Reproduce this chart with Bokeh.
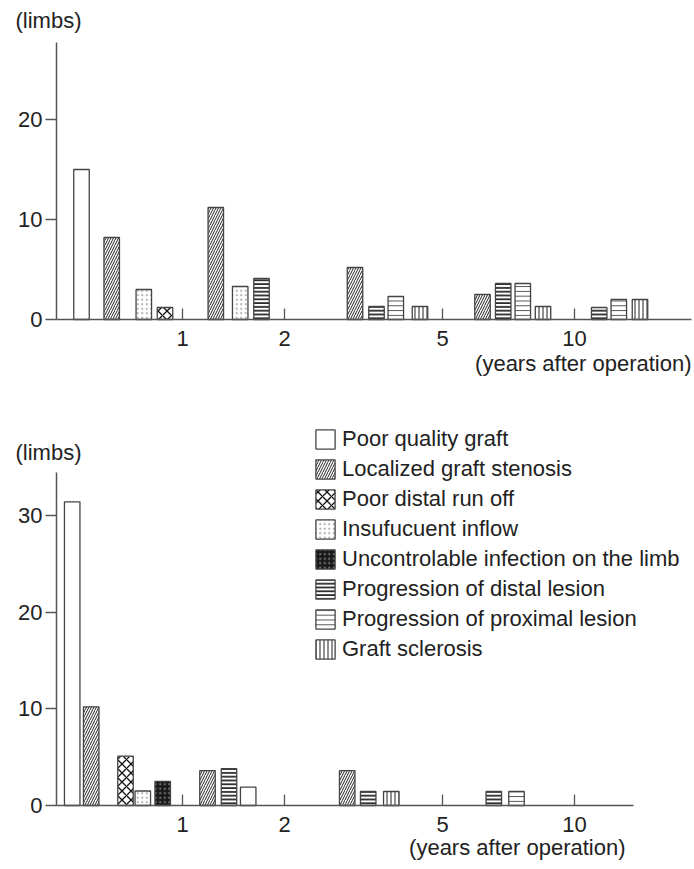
from bokeh.plotting import figure
from bokeh.models import ColumnDataSource, Legend, LegendItem, Label, FixedTicker, Range1d
from bokeh.layouts import column
from bokeh.embed import file_html
from bokeh.resources import INLINE

# ---------------- data ----------------
categories = [
    "Poor quality graft",
    "Localized graft stenosis",
    "Poor distal run off",
    "Insufucuent inflow",
    "Uncontrolable infection on the limb",
    "Progression of distal lesion",
    "Progression of proximal lesion",
    "Graft sclerosis",
]

tick_positions = [12.6, 22.8, 38.6, 51.8]
tick_labels = ["1", "2", "5", "10"]

# top panel (x positions on the years axis, cause index, limbs)
top_x = [2.50, 5.52, 8.73, 10.85, 15.93, 18.37, 20.50, 29.85, 32.00, 33.93,
         36.35, 42.60, 44.67, 46.63, 48.65, 54.27, 56.23, 58.35]
top_cat = [0, 1, 3, 2, 1, 3, 5, 1, 5, 6, 7, 1, 5, 6, 7, 5, 6, 7]
top_val = [15.0, 8.2, 3.0, 1.2, 11.2, 3.3, 4.1, 5.2, 1.3, 2.3, 1.3,
           2.5, 3.6, 3.6, 1.3, 1.2, 2.0, 2.0]

# bottom panel
bot_x = [1.57, 3.47, 6.90, 8.63, 10.62, 15.10, 17.25, 19.17, 29.07, 31.17,
         33.48, 43.73, 46.00]
bot_cat = [0, 1, 2, 3, 4, 1, 5, 0, 1, 5, 7, 5, 6]
bot_val = [31.4, 10.2, 5.1, 1.5, 2.5, 3.6, 3.8, 1.9, 3.6, 1.45, 1.45, 1.45, 1.45]

top_yticks = [0, 10, 20]
bot_yticks = [0, 10, 20, 30]

# ---------------- styles ----------------
FONT = "Liberation Sans"
TXT = "#222222"
AX = "#555555"
BAR_W = 1.55
W = 694

styles = [
    dict(fill_color="white", hatch_pattern=" "),
    dict(fill_color="white", hatch_pattern="/", hatch_color="#222222", hatch_scale=5, hatch_weight=1.0),
    dict(fill_color="white", hatch_pattern="x", hatch_color="#111111", hatch_scale=9, hatch_weight=1.3),
    dict(fill_color="white", hatch_pattern=".", hatch_color="#b0b0b0", hatch_scale=4.5, hatch_weight=0.7),
    dict(fill_color="#1a1a1a", hatch_pattern=".", hatch_color="#707070", hatch_scale=4.5, hatch_weight=0.8),
    dict(fill_color="white", hatch_pattern="-", hatch_color="#111111", hatch_scale=3.8, hatch_weight=1.6),
    dict(fill_color="white", hatch_pattern="-", hatch_color="#444444", hatch_scale=4.8, hatch_weight=0.9),
    dict(fill_color="white", hatch_pattern="|", hatch_color="#333333", hatch_scale=4, hatch_weight=1.1),
]

# layout in pixels: y axis at x=56, 10 px per x unit
X0_PX = 56
PX_PER_X = 10.0


def make_fig(height, zero_px, px_per_y, x_end, y_end, yticks):
    xr = Range1d(-X0_PX / PX_PER_X, (W - X0_PX) / PX_PER_X)
    yr = Range1d(-(height - zero_px) / px_per_y, zero_px / px_per_y)
    p = figure(width=W, height=height, x_range=xr, y_range=yr,
               output_backend="svg", toolbar_location=None,
               min_border_left=0, min_border_right=0,
               min_border_top=0, min_border_bottom=0)
    p.outline_line_color = None
    p.xgrid.visible = False
    p.ygrid.visible = False
    p.background_fill_color = "white"
    p.border_fill_color = "white"

    xa = p.xaxis[0]
    xa.fixed_location = 0
    xa.bounds = (0, x_end)
    xa.ticker = FixedTicker(ticks=tick_positions)
    xa.major_label_overrides = {t: l for t, l in zip(tick_positions, tick_labels)}
    xa.major_tick_in = 11
    xa.major_tick_out = 0
    xa.minor_tick_line_color = None
    xa.axis_line_color = AX
    xa.axis_line_width = 1.5
    xa.major_tick_line_color = AX
    xa.major_tick_line_width = 1.3
    xa.major_label_text_font = FONT
    xa.major_label_text_font_size = "22px"
    xa.major_label_text_color = TXT
    xa.major_label_standoff = 11

    ya = p.yaxis[0]
    ya.fixed_location = 0
    ya.bounds = (0, y_end)
    ya.ticker = FixedTicker(ticks=yticks)
    ya.major_tick_in = 0
    ya.major_tick_out = 11
    ya.minor_tick_line_color = None
    ya.axis_line_color = AX
    ya.axis_line_width = 1.5
    ya.major_tick_line_color = AX
    ya.major_tick_line_width = 1.3
    ya.major_label_text_font = FONT
    ya.major_label_text_font_size = "22px"
    ya.major_label_text_color = TXT
    ya.major_label_standoff = 3
    return p


def add_bars(p, xs, cats, vals):
    renderers = {}
    for ci, st in enumerate(styles):
        idx = [i for i, c in enumerate(cats) if c == ci]
        if not idx:
            continue
        src = ColumnDataSource(dict(x=[xs[i] for i in idx], top=[vals[i] for i in idx]))
        r = p.vbar(x="x", top="top", bottom=0, width=BAR_W, source=src,
                   line_color="#444444", line_width=1.3, **st)
        renderers[ci] = r
    return renderers


def text_label(p, x, y, txt, align):
    p.add_layout(Label(x=x, y=y, text=txt, text_align=align, text_baseline="middle",
                       text_font=FONT, text_font_size="22px", text_color=TXT))


# ---------------- top panel ----------------
H1 = 390
p1 = make_fig(H1, 319, 10.0, 63.5, 27.7, top_yticks)
add_bars(p1, top_x, top_cat, top_val)
text_label(p1, -4.1, 29.9, "(limbs)", "left")
text_label(p1, 63.5, -4.4, "(years after operation)", "right")

# ---------------- bottom panel ----------------
H2 = 478
p2 = make_fig(H2, 805 - H1, 9.67, 57.7, 34.44, bot_yticks)
rs = add_bars(p2, bot_x, bot_cat, bot_val)
text_label(p2, -4.1, 36.5, "(limbs)", "left")
text_label(p2, 56.9, -4.34, "(years after operation)", "right")

items = [LegendItem(label=categories[ci], renderers=[rs[ci]]) for ci in range(len(categories)) if ci in rs]
legend = Legend(items=items, location=(313, 206), orientation="vertical",
                glyph_width=24, glyph_height=24, label_height=24, spacing=4,
                label_standoff=5, padding=0, margin=0,
                border_line_color=None, background_fill_alpha=0,
                label_text_font=FONT, label_text_font_size="22px", label_text_color=TXT)
p2.add_layout(legend)

layout = column(p1, p2, spacing=0)
open("out.html", "w").write(file_html(layout, INLINE))
